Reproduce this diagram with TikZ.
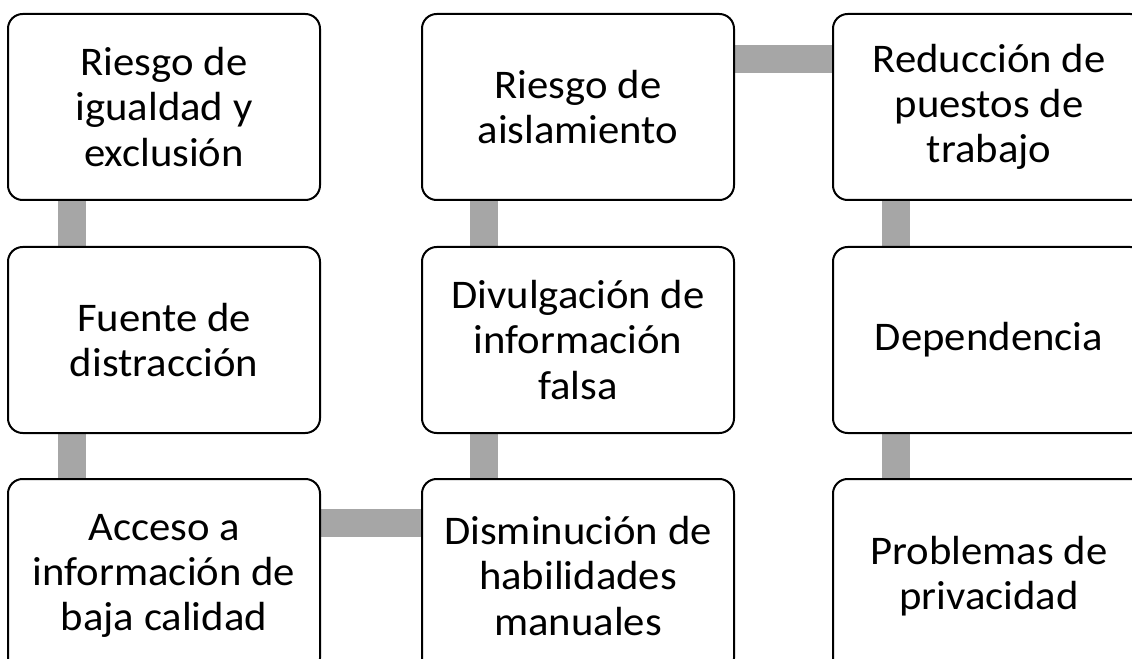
\documentclass[tikz,border=0pt]{standalone}
\usepackage{fontspec}
\setmainfont{Carlito}[FakeStretch=1.05]
\usetikzlibrary{calc,backgrounds}
\definecolor{conn}{HTML}{A6A6A6}
\tikzset{
  box/.style={draw=black, line width=1.5pt, fill=white, rounded corners=11pt,
    minimum width=234pt, minimum height=139.5pt, inner sep=0pt, align=center,
    font=\fontsize{30.5}{34}\selectfont},
  lowbox/.style={box, minimum height=145.5pt},
  link/.style={draw=conn, line width=21pt, line cap=butt}
}
\begin{document}
\begin{tikzpicture}[x=0.75pt,y=-0.75pt]
\useasboundingbox (0,0) rectangle (1132,659);
\clip (0,0) rectangle (1132,659);
\node[box] (a1) at (164,107) {Riesgo de\\igualdad y\\exclusión};
\node[box] (a2) at (164,340) {Fuente de\\distracción};
\node[lowbox] (a3) at (164,576) {Acceso a\\información de\\baja calidad};
\node[box] (b1) at (578,107) {Riesgo de\\aislamiento};
\node[box] (b2) at (578,340) {Divulgación de\\información\\falsa};
\node[lowbox] (b3) at (578,576) {Disminución de\\habilidades\\manuales};
\node[box] (c1) at (989,107) {Reducción de\\puestos de\\trabajo};
\node[box] (c2) at (989,340) {Dependencia};
\node[lowbox] (c3) at (989,576) {Problemas de\\privacidad};
\begin{scope}[on background layer]
\draw[link] ($(a1.south west)+(65,0)$) -- ($(a2.north west)+(65,0)$);
\draw[link] ($(a2.south west)+(65,0)$) -- ($(a3.north west)+(65,0)$);
\draw[link] ($(a3.north east)+(0,45)$) -- ($(b3.north west)+(0,45)$);
\draw[link] ($(b3.north west)+(63,0)$) -- ($(b2.south west)+(63,0)$);
\draw[link] ($(b2.north west)+(63,0)$) -- ($(b1.south west)+(63,0)$);
\draw[link] ($(b1.north east)+(0,46)$) -- ($(c1.north west)+(0,46)$);
\draw[link] ($(c1.south west)+(64,0)$) -- ($(c2.north west)+(64,0)$);
\draw[link] ($(c2.south west)+(64,0)$) -- ($(c3.north west)+(64,0)$);
\end{scope}
\end{tikzpicture}
\end{document}
